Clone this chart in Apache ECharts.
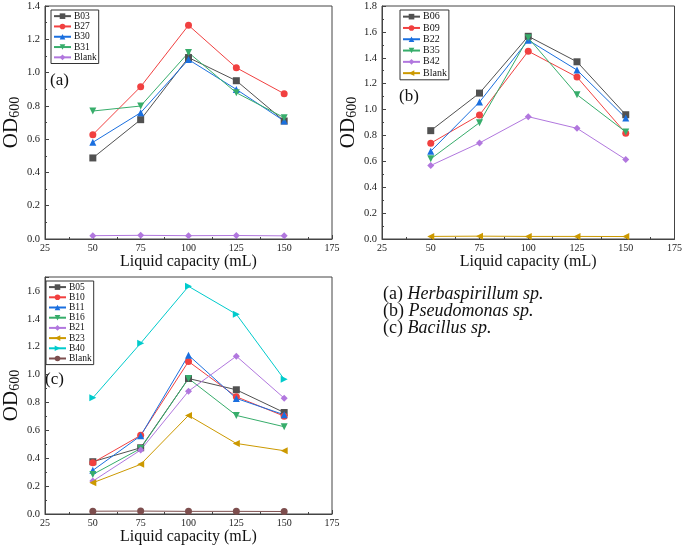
<!DOCTYPE html>
<html>
<head>
<meta charset="utf-8">
<script src="https://cdn.jsdelivr.net/npm/echarts@6/dist/echarts.min.js"></script>
<style>html,body{margin:0;padding:0;background:#fff;}#c{width:685px;height:547px;}</style>
</head>
<body>
<div id="c"></div>
<script>
// ---- data ----
const xValues = [50, 75, 100, 125, 150];
const xTicks = [25, 50, 75, 100, 125, 150, 175];

// Panel (a) Herbaspirillum sp.
const namesA = ['B03', 'B27', 'B30', 'B31', 'Blank'];
const B03 = [0.487, 0.717, 1.09, 0.951, 0.709];
const B27 = [0.627, 0.915, 1.284, 1.029, 0.873];
const B30 = [0.581, 0.759, 1.078, 0.899, 0.709];
const B31 = [0.769, 0.799, 1.12, 0.879, 0.729];
const BlankA = [0.02, 0.022, 0.02, 0.021, 0.019];

// Panel (b) Pseudomonas sp.
const namesB = ['B06', 'B09', 'B22', 'B35', 'B42', 'Blank'];
const B06 = [0.837, 1.127, 1.566, 1.369, 0.960];
const B09 = [0.740, 0.958, 1.451, 1.251, 0.817];
const B22 = [0.678, 1.058, 1.536, 1.305, 0.935];
const B35 = [0.619, 0.899, 1.554, 1.115, 0.827];
const B42 = [0.568, 0.742, 0.945, 0.855, 0.614];
const BlankB = [0.02, 0.022, 0.02, 0.02, 0.019];

// Panel (c) Bacillus sp.
const namesC = ['B05', 'B10', 'B11', 'B16', 'B21', 'B23', 'B40', 'Blank'];
const B05 = [0.375, 0.475, 0.972, 0.891, 0.728];
const B10 = [0.368, 0.564, 1.094, 0.841, 0.702];
const B11 = [0.313, 0.561, 1.139, 0.829, 0.712];
const B16 = [0.284, 0.470, 0.972, 0.707, 0.626];
const B21 = [0.236, 0.459, 0.881, 1.132, 0.831];
const B23 = [0.224, 0.356, 0.707, 0.506, 0.454];
const B40 = [0.833, 1.225, 1.633, 1.433, 0.967];
const BlankC = [0.02, 0.021, 0.019, 0.019, 0.018];

const captions = [['(a) ', 'Herbaspirillum sp.'], ['(b) ', 'Pseudomonas sp.'], ['(c) ', 'Bacillus sp.']];

// ---- styles ----
const FONT = "'Liberation Serif', 'Times New Roman', serif";
const palette = ['#515151', '#F14040', '#1A6FDF', '#37AD6B', '#B177DE', '#CC9900', '#00CBCC', '#7D4E4E'];
const symbols = ['rect', 'circle', 'triangle',
  'path://M0,0 L10,0 L5,9 Z',
  'diamond',
  'path://M9,0 L0,5 L9,10 Z',
  'path://M0,0 L9,5 L0,10 Z',
  'circle'];

const panels = [
  {names: namesA, values: [B03, B27, B30, B31, BlankA], grid: {left: 39, top: 6, width: 293, height: 233}, yMax: 1.4, tag: '(a)', tagPos: [50, 72], legend: {left: 51, top: 10, lh: 10.3, fs: 9.5}},
  {names: namesB, values: [B06, B09, B22, B35, B42, BlankB], grid: {left: 382, top: 6, width: 293, height: 233}, yMax: 1.8, tag: '(b)', tagPos: [399, 88], legend: {left: 400, top: 10, lh: 11.3, fs: 10}},
  {names: namesC, values: [B05, B10, B11, B16, B21, B23, B40, BlankC], grid: {left: 37, top: 277, width: 295, height: 237}, yMax: 1.7, tag: '(c)', tagPos: [45, 371], legend: {left: 46, top: 281, lh: 10.2, fs: 9.5}}
];

const grids = [], xAxes = [], yAxes = [], series = [], legends = [], graphics = [];
panels.forEach((p, pi) => {
  grids.push(Object.assign({show: true, borderColor: '#444', borderWidth: 1, backgroundColor: 'transparent'}, p.grid));
  xAxes.push({
    type: 'value', gridIndex: pi, min: xTicks[0], max: xTicks[xTicks.length - 1], interval: 25,
    name: 'Liquid capacity (mL)', nameLocation: 'middle', nameGap: 14,
    nameTextStyle: {fontFamily: FONT, fontSize: 16, color: '#111'},
    axisLine: {lineStyle: {color: '#444', width: 1}},
    axisTick: {inside: true, length: 4, lineStyle: {color: '#444'}},
    minorTick: {show: true, splitNumber: 2, length: 2, lineStyle: {color: '#444'}},
    splitLine: {show: false},
    axisLabel: {fontFamily: FONT, fontSize: 10, color: '#222', margin: 4}
  });
  yAxes.push({
    type: 'value', gridIndex: pi, min: 0, max: p.yMax, interval: 0.2,
    name: '{m|OD}{s|600}', nameLocation: 'middle', nameGap: 23, nameRotate: 90,
    nameTextStyle: {fontFamily: FONT, color: '#111', rich: {
      m: {fontFamily: FONT, fontSize: 21, color: '#111'},
      s: {fontFamily: FONT, fontSize: 14, color: '#111', verticalAlign: 'bottom', lineHeight: 16}
    }},
    axisLine: {show: true, lineStyle: {color: '#444', width: 1}},
    axisTick: {show: true, inside: true, length: 4, lineStyle: {color: '#444'}},
    minorTick: {show: true, splitNumber: 2, length: 2, lineStyle: {color: '#444'}},
    splitLine: {show: false},
    axisLabel: {fontFamily: FONT, fontSize: 10.5, color: '#222', margin: 5, showMaxLabel: pi !== 2,
      formatter: v => v.toFixed(1)}
  });
  const legendData = [];
  p.names.forEach((n, si) => {
    const uname = n + ' '.repeat(pi); // unique names per panel
    legendData.push(uname);
    series.push({
      type: 'line', name: uname, xAxisIndex: pi, yAxisIndex: pi,
      data: xValues.map((x, i) => [x, p.values[si][i]]),
      symbol: si === p.names.length - 1 && pi === 2 ? 'circle' : symbols[si],
      symbolSize: 7,
      color: si === p.names.length - 1 && pi === 2 ? palette[7] : palette[si],
      lineStyle: {width: 1},
      itemStyle: {opacity: 1},
      emphasis: {disabled: true},
      animation: false
    });
  });
  legends.push({
    data: legendData, orient: 'vertical', left: p.legend.left, top: p.legend.top,
    borderColor: '#333', borderWidth: 1, backgroundColor: '#fff', padding: [1, 2, 1, 2],
    itemWidth: 17, itemHeight: 7, itemGap: 0, selectedMode: false,
    formatter: n => n.trim(),
    textStyle: {fontFamily: FONT, fontSize: p.legend.fs, lineHeight: p.legend.lh, color: '#111', padding: [0, 0, 0, -2]}
  });
  graphics.push({type: 'text', left: p.tagPos[0], top: p.tagPos[1],
    style: {text: p.tag, fontFamily: FONT, fontSize: 17, fill: '#111'}});
});

captions.forEach((c, i) => {
  graphics.push({type: 'text', left: 383, top: 285 + i * 17,
    style: {text: c[0] + '{i|' + c[1] + '}', fontFamily: FONT, fontSize: 18, fill: '#111',
      rich: {i: {fontFamily: FONT, fontSize: 18, fontStyle: 'italic', fill: '#111'}}}});
});

const chart = echarts.init(document.getElementById('c'), null, {renderer: 'canvas'});
chart.setOption({
  backgroundColor: '#fff',
  animation: false,
  grid: grids, xAxis: xAxes, yAxis: yAxes, legend: legends, series: series, graphic: graphics
});
</script>
</body>
</html>
